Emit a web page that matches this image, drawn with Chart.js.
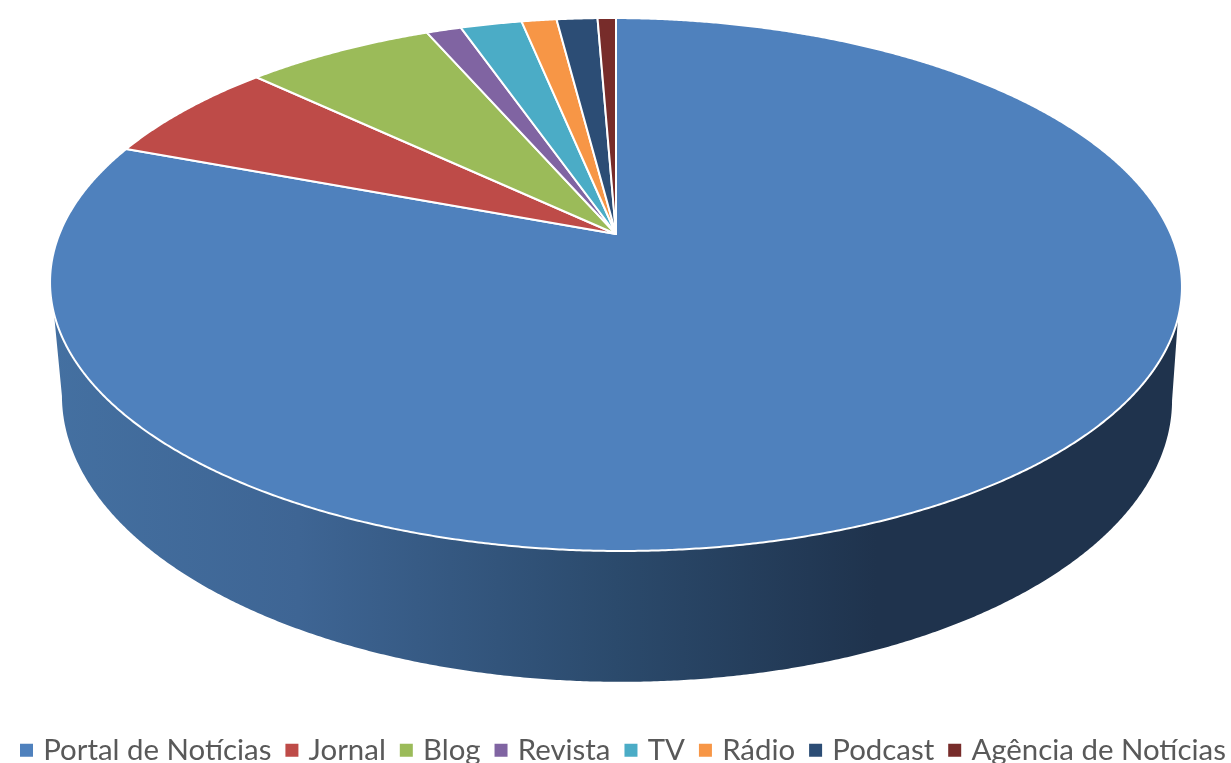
<!DOCTYPE html>
<html>
<head>
<meta charset="utf-8">
<style>
  html, body { margin: 0; padding: 0; background: #fff; overflow: hidden; }
  canvas { display: block; }
</style>
<script src="https://cdn.jsdelivr.net/npm/chart.js@4"></script>
</head>
<body>
<canvas id="pie3d" width="1231" height="763"></canvas>
<script>
// Values (share in %)
const categories = ['Portal de Notícias', 'Jornal', 'Blog', 'Revista', 'TV', 'Rádio', 'Podcast', 'Agência de Notícias'];
const seriesValues = [80.6, 6.36, 6.5, 1.2, 2.11, 1.2, 1.4, 0.63];
const sliceColors = ['#4F81BD', '#BE4B48', '#9BBB59', '#8064A2', '#4BACC6', '#F79646', '#2C4D75', '#772C2A'];

// Perspective of the disc: top face and bottom rim of the wall
const PERSP = 0.1895;
const topFace = { x: 616, y: 234, a: 555.7, b: 256.9 };
const bottomRim = { x: 617, y: 344, a: 545, b: 273.8 };
const TILT = 0.004;

// theta: clockwise from 12 o'clock, radians. r: 0 apex .. 1 rim
function project(disc, theta, r) {
    const u = r * Math.sin(theta);
    const v = -r * Math.cos(theta);
    const w = 1 - PERSP * v;
    const dx = disc.a * u / w;
    return [disc.x + dx, disc.y + disc.b * v / w + TILT * dx];
}

function rimPath(ctx, disc, from, to, first) {
    const steps = Math.max(2, Math.ceil(Math.abs(to - from) / 0.005));
    for (let i = 0; i <= steps; i++) {
        const p = project(disc, from + (to - from) * i / steps, 1);
        if (i === 0 && first) ctx.moveTo(p[0], p[1]);
        else ctx.lineTo(p[0], p[1]);
    }
}

const deg = Math.PI / 180;

function drawWall(ctx) {
    const grad = ctx.createLinearGradient(50, 0, 1182, 0);
    grad.addColorStop(0, '#4470A1');
    grad.addColorStop(0.22, '#3E6594');
    grad.addColorStop(0.5, '#2B4A6C');
    grad.addColorStop(0.73, '#1F334D');
    grad.addColorStop(1, '#1F334D');
    ctx.beginPath();
    rimPath(ctx, topFace, 252.5 * deg, 107.5 * deg, true);
    rimPath(ctx, bottomRim, 101 * deg, 259 * deg, false);
    ctx.closePath();
    ctx.fillStyle = grad;
    ctx.fill();
}

const LEGEND_START = 24.5;

// The slices come from the pie controller, only their shape is re-projected
const perspectivePie = {
    id: 'perspectivePie',
    afterLayout(chart) {
        // legend row is as wide as the page, refit it without the wrap margin
        const legend = chart.legend;
        const pad = legend.options.labels.padding;
        legend.maxWidth = 1400;
        legend.fit();
        legend.right = 1400;
        legend.left = 2 * LEGEND_START - pad - legend.right + legend.lineWidths[0];
        legend.width = legend.right - legend.left;
        legend.top = 717;
        legend.bottom = 763;
        legend.adjustHitBoxes();
    },
    beforeDatasetDraw(chart, args) {
        const ctx = chart.ctx;
        ctx.save();
        drawWall(ctx);
        args.meta.data.forEach((arc, i) => {
            const start = arc.startAngle + Math.PI / 2;
            const end = arc.endAngle + Math.PI / 2;
            const apex = project(topFace, 0, 0);
            ctx.beginPath();
            ctx.moveTo(apex[0], apex[1]);
            rimPath(ctx, topFace, start, end, false);
            ctx.closePath();
            ctx.fillStyle = sliceColors[i];
            ctx.fill();
            ctx.strokeStyle = '#fff';
            ctx.lineWidth = 2;
            ctx.lineJoin = 'round';
            ctx.stroke();
        });
        ctx.restore();
        return false;
    }
};

new Chart(document.getElementById('pie3d').getContext('2d'), {
    type: 'pie',
    data: {
        labels: categories,
        datasets: [{
            data: seriesValues,
            backgroundColor: sliceColors,
            borderWidth: 0
        }]
    },
    options: {
        responsive: false,
        animation: false,
        plugins: {
            tooltip: { enabled: false },
            legend: {
                position: 'bottom',
                labels: {
                    usePointStyle: true,
                    pointStyle: 'rect',
                    boxWidth: 4,
                    boxHeight: 13,
                    padding: 18.5,
                    color: '#595959',
                    font: { family: 'Lato', size: 29.4 }
                }
            }
        }
    },
    plugins: [perspectivePie]
});
</script>
</body>
</html>
